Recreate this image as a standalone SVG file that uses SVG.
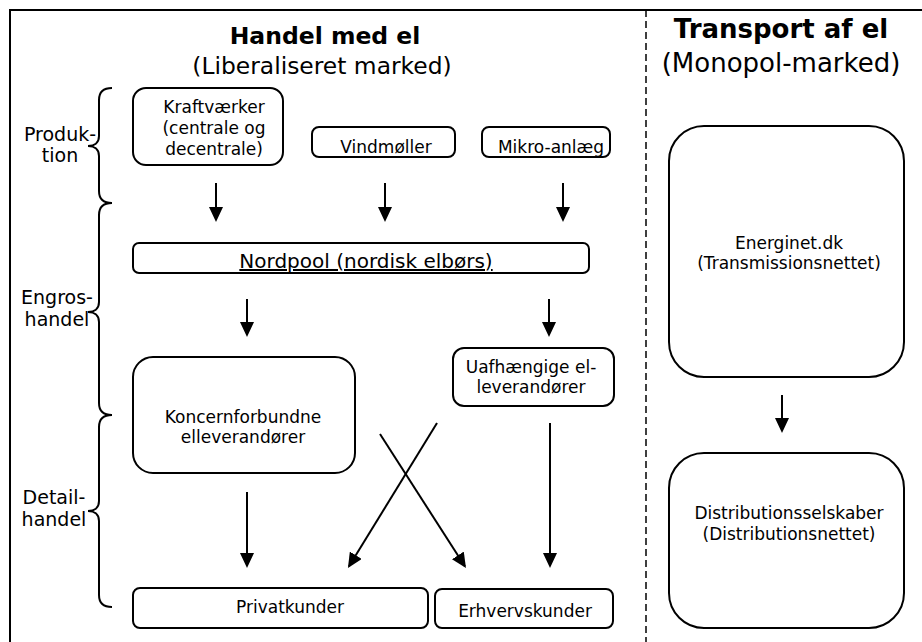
<svg xmlns="http://www.w3.org/2000/svg" width="922" height="642" viewBox="0 0 922 642">
  <style>
    text { font-family: "DejaVu Sans", Verdana, sans-serif; fill: #000; }
    .lbl { font-size: 17px; text-anchor: middle; }
    .side { font-size: 19px; text-anchor: middle; }
    .box { fill: #fff; stroke: #000; stroke-width: 2; }
    .brace { fill: none; stroke: #000; stroke-width: 2; }
    .conn line { stroke: #000; stroke-width: 2; marker-end: url(#ah); }
  </style>
  <defs>
    <marker id="ah" markerUnits="userSpaceOnUse" markerWidth="15" markerHeight="14" refX="13" refY="7" orient="auto" viewBox="0 0 15 14">
      <path d="M0,0 L15,7 L0,14 z" fill="#000"/>
    </marker>
  </defs>
  <rect width="922" height="642" fill="#fff"/>

  <!-- frame and column divider -->
  <path d="M10,642 L10,10 L922,10" fill="none" stroke="#000" stroke-width="2"/>
  <line x1="646" y1="10" x2="646" y2="642" stroke="#000" stroke-width="1.5" stroke-dasharray="7 4"/>

  <!-- column titles -->
  <g id="title-handel">
    <text x="325" y="44" style="font-size:23.5px;font-weight:bold;text-anchor:middle">Handel med el</text>
    <text x="322" y="74" style="font-size:23.4px;text-anchor:middle">(Liberaliseret marked)</text>
  </g>
  <g id="title-transport">
    <text x="781" y="38" style="font-size:26px;font-weight:bold;text-anchor:middle">Transport af el</text>
    <text x="781" y="72" style="font-size:26px;text-anchor:middle">(Monopol-marked)</text>
  </g>

  <!-- stage braces and labels -->
  <g id="stage-produktion">
    <path class="brace" d="M112,88 C104,88 99,92 99,100 L99,136 C99,143 94,146 88,146 C94,146 99,149 99,156 L99,191 C99,199 104,203 112,203"/>
    <text class="side" x="60" y="141">Produk-</text>
    <text class="side" x="60" y="162">tion</text>
  </g>
  <g id="stage-engros">
    <path class="brace" d="M112,203 C104,203 99,207 99,215 L99,302 C99,309 94,312 88,312 C94,312 99,315 99,322 L99,403 C99,411 104,415 112,415"/>
    <text class="side" x="57" y="304">Engros-</text>
    <text class="side" x="57" y="326">handel</text>
  </g>
  <g id="stage-detail">
    <path class="brace" d="M112,415 C104,415 99,419 99,427 L99,501 C99,508 94,511 88,511 C94,511 99,514 99,521 L99,595 C99,603 104,607 112,607"/>
    <text class="side" x="54" y="504">Detail-</text>
    <text class="side" x="54" y="526">handel</text>
  </g>

  <!-- nodes -->
  <g id="kraftvaerker">
    <rect class="box" x="133" y="88" width="150" height="77" rx="13"/>
    <text class="lbl" x="214" y="113">Kraftværker</text>
    <text class="lbl" x="214" y="134">(centrale og</text>
    <text class="lbl" x="214" y="155">decentrale)</text>
  </g>
  <g id="vindmoeller">
    <rect class="box" x="312" y="127" width="143" height="30" rx="7"/>
    <text class="lbl" x="386" y="153">Vindmøller</text>
  </g>
  <g id="mikro-anlaeg">
    <rect class="box" x="482" y="127" width="128" height="30" rx="7"/>
    <text class="lbl" x="551" y="153">Mikro-anlæg</text>
  </g>
  <g id="nordpool">
    <rect class="box" x="133" y="243" width="456" height="30" rx="6"/>
    <text x="366" y="268" style="font-size:20px;text-anchor:middle;text-decoration:underline">Nordpool (nordisk elbørs)</text>
  </g>
  <g id="koncernforbundne">
    <rect class="box" x="133" y="357" width="222" height="116" rx="20"/>
    <text class="lbl" x="243" y="423">Koncernforbundne</text>
    <text class="lbl" x="243" y="443">elleverandører</text>
  </g>
  <g id="uafhaengige">
    <rect class="box" x="453" y="348" width="161" height="58" rx="11"/>
    <text class="lbl" x="531" y="373">Uafhængige el-</text>
    <text class="lbl" x="531" y="393">leverandører</text>
  </g>
  <g id="privatkunder">
    <rect class="box" x="133" y="588" width="295" height="40" rx="7"/>
    <text class="lbl" x="290" y="613">Privatkunder</text>
  </g>
  <g id="erhvervskunder">
    <rect class="box" x="435" y="589" width="178" height="39" rx="7"/>
    <text class="lbl" x="525" y="617">Erhvervskunder</text>
  </g>
  <g id="energinet">
    <rect class="box" x="669" y="126" width="235" height="251" rx="35"/>
    <text class="lbl" x="789" y="249">Energinet.dk</text>
    <text class="lbl" x="789" y="269">(Transmissionsnettet)</text>
  </g>
  <g id="distribution">
    <rect class="box" x="669" y="453" width="235" height="175" rx="35"/>
    <text class="lbl" x="789" y="519">Distributionsselskaber</text>
    <text class="lbl" x="789" y="540">(Distributionsnettet)</text>
  </g>

  <!-- connectors -->
  <g class="conn" id="connectors">
    <line x1="216" y1="183" x2="216" y2="220"/>
    <line x1="385" y1="183" x2="385" y2="220"/>
    <line x1="563" y1="183" x2="563" y2="220"/>
    <line x1="247" y1="299" x2="247" y2="335"/>
    <line x1="549" y1="299" x2="549" y2="335"/>
    <line x1="247" y1="492" x2="247" y2="566"/>
    <line x1="437" y1="423" x2="349" y2="566.3"/>
    <line x1="380" y1="434" x2="464.9" y2="566.3"/>
    <line x1="550" y1="423" x2="550" y2="566"/>
    <line x1="782" y1="395" x2="782" y2="431"/>
  </g>
</svg>
